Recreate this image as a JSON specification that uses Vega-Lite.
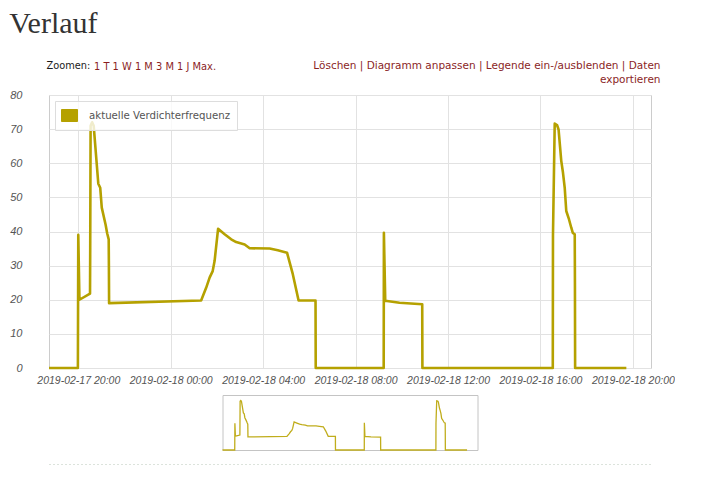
{
  "$schema": "https://vega.github.io/schema/vega-lite/v6.json",
  "background": "white",
  "padding": {"left": 9, "top": 8, "right": 0, "bottom": 0},
  "config": {
    "font": "DejaVu Sans",
    "axis": {"ticks": false, "domain": false, "gridColor": "#e2e2e2", "labelColor": "#545454"}
  },
  "title": {
    "text": "Verlauf",
    "anchor": "start",
    "font": "Liberation Serif",
    "fontSize": 30,
    "fontWeight": "normal",
    "color": "#333333",
    "offset": 21
  },
  "data": {
    "values": [
      {"Zeit": "2019-02-17T18:44:00", "Frequenz": 0},
      {"Zeit": "2019-02-17T19:59:00", "Frequenz": 0},
      {"Zeit": "2019-02-17T20:00:00", "Frequenz": 39},
      {"Zeit": "2019-02-17T20:03:00", "Frequenz": 20},
      {"Zeit": "2019-02-17T20:30:30", "Frequenz": 21.8},
      {"Zeit": "2019-02-17T20:31:00", "Frequenz": 35},
      {"Zeit": "2019-02-17T20:32:00", "Frequenz": 71},
      {"Zeit": "2019-02-17T20:36:00", "Frequenz": 72},
      {"Zeit": "2019-02-17T20:40:00", "Frequenz": 71},
      {"Zeit": "2019-02-17T20:52:00", "Frequenz": 54},
      {"Zeit": "2019-02-17T20:57:00", "Frequenz": 52.8},
      {"Zeit": "2019-02-17T21:01:00", "Frequenz": 47},
      {"Zeit": "2019-02-17T21:11:00", "Frequenz": 42},
      {"Zeit": "2019-02-17T21:15:00", "Frequenz": 39.5},
      {"Zeit": "2019-02-17T21:19:00", "Frequenz": 37.7},
      {"Zeit": "2019-02-17T21:19:30", "Frequenz": 30},
      {"Zeit": "2019-02-17T21:20:00", "Frequenz": 19},
      {"Zeit": "2019-02-18T01:19:00", "Frequenz": 19.8},
      {"Zeit": "2019-02-18T01:32:00", "Frequenz": 23.5},
      {"Zeit": "2019-02-18T01:41:00", "Frequenz": 26.5},
      {"Zeit": "2019-02-18T01:49:00", "Frequenz": 28.4},
      {"Zeit": "2019-02-18T01:54:00", "Frequenz": 31.4},
      {"Zeit": "2019-02-18T02:03:00", "Frequenz": 40.8},
      {"Zeit": "2019-02-18T02:20:00", "Frequenz": 39.2},
      {"Zeit": "2019-02-18T02:37:00", "Frequenz": 37.7},
      {"Zeit": "2019-02-18T02:50:00", "Frequenz": 36.9},
      {"Zeit": "2019-02-18T03:12:00", "Frequenz": 36.2},
      {"Zeit": "2019-02-18T03:25:00", "Frequenz": 35.1},
      {"Zeit": "2019-02-18T04:17:00", "Frequenz": 35.0},
      {"Zeit": "2019-02-18T04:38:00", "Frequenz": 34.5},
      {"Zeit": "2019-02-18T05:02:00", "Frequenz": 33.8},
      {"Zeit": "2019-02-18T05:17:00", "Frequenz": 27.5},
      {"Zeit": "2019-02-18T05:32:00", "Frequenz": 19.8},
      {"Zeit": "2019-02-18T06:16:00", "Frequenz": 19.8},
      {"Zeit": "2019-02-18T06:16:30", "Frequenz": 0},
      {"Zeit": "2019-02-18T09:13:00", "Frequenz": 0},
      {"Zeit": "2019-02-18T09:13:30", "Frequenz": 39.6},
      {"Zeit": "2019-02-18T09:17:00", "Frequenz": 19.7},
      {"Zeit": "2019-02-18T09:54:00", "Frequenz": 19.1},
      {"Zeit": "2019-02-18T10:53:00", "Frequenz": 18.7},
      {"Zeit": "2019-02-18T10:53:30", "Frequenz": 0},
      {"Zeit": "2019-02-18T16:32:00", "Frequenz": 0},
      {"Zeit": "2019-02-18T16:32:30", "Frequenz": 39},
      {"Zeit": "2019-02-18T16:37:00", "Frequenz": 71.6},
      {"Zeit": "2019-02-18T16:43:00", "Frequenz": 71.2},
      {"Zeit": "2019-02-18T16:47:00", "Frequenz": 69.9},
      {"Zeit": "2019-02-18T16:54:00", "Frequenz": 60.7},
      {"Zeit": "2019-02-18T16:58:30", "Frequenz": 57.2},
      {"Zeit": "2019-02-18T17:03:00", "Frequenz": 52.8},
      {"Zeit": "2019-02-18T17:07:00", "Frequenz": 46},
      {"Zeit": "2019-02-18T17:14:00", "Frequenz": 43.6},
      {"Zeit": "2019-02-18T17:20:00", "Frequenz": 41.1},
      {"Zeit": "2019-02-18T17:24:00", "Frequenz": 39.6},
      {"Zeit": "2019-02-18T17:29:00", "Frequenz": 39.2},
      {"Zeit": "2019-02-18T17:29:30", "Frequenz": 25},
      {"Zeit": "2019-02-18T17:30:00", "Frequenz": 0},
      {"Zeit": "2019-02-18T19:43:00", "Frequenz": 0}
    ]
  },
  "bounds": "flush",
  "center": true,
  "spacing": 27,
  "vconcat": [
    {
      "width": 602,
      "height": 273,
      "view": {"stroke": "#cccccc"},
      "title": {
        "text": "1 T 1 W 1 M 3 M 1 J Max.",
        "anchor": "start",
        "frame": "group",
        "dx": 45,
        "baseline": "alphabetic",
        "offset": -19.5,
        "font": "DejaVu Sans",
        "fontSize": 9.9,
        "fontWeight": "normal",
        "color": "#8b1f1f"
      },
      "resolve": {"axis": {"x": "independent"}},
      "layer": [
        {
          "mark": {"type": "line", "strokeWidth": 2.6, "strokeJoin": "round"},
          "encoding": {
            "x": {
              "field": "Zeit",
              "type": "temporal",
              "scale": {"domain": [
                {"year": 2019, "month": 2, "date": 17, "hours": 18, "minutes": 44},
                {"year": 2019, "month": 2, "date": 18, "hours": 20, "minutes": 47}
              ]},
              "axis": {
                "orient": "bottom",
                "format": "%Y-%m-%d %H:%M",
                "values": [
                  {"year": 2019, "month": 2, "date": 17, "hours": 20},
                  {"year": 2019, "month": 2, "date": 18, "hours": 0},
                  {"year": 2019, "month": 2, "date": 18, "hours": 4},
                  {"year": 2019, "month": 2, "date": 18, "hours": 8},
                  {"year": 2019, "month": 2, "date": 18, "hours": 12},
                  {"year": 2019, "month": 2, "date": 18, "hours": 16},
                  {"year": 2019, "month": 2, "date": 18, "hours": 20}
                ],
                "labelOverlap": false,
                "labelFont": "Liberation Sans",
                "labelFontStyle": "italic",
                "labelFontSize": 10.5,
                "labelPadding": 7,
                "title": "Zoomen:",
                "titleX": -3,
                "titleY": -300,
                "titleAlign": "left",
                "titleBaseline": "alphabetic",
                "titleFont": "DejaVu Sans",
                "titleFontSize": 9.8,
                "titleFontWeight": "normal",
                "titleColor": "#1a1a1a"
              }
            },
            "y": {
              "field": "Frequenz",
              "type": "quantitative",
              "scale": {"domain": [0, 80]},
              "axis": {
                "values": [0, 10, 20, 30, 40, 50, 60, 70, 80],
                "labelFont": "Liberation Sans",
                "labelFontStyle": "italic",
                "labelFontSize": 11,
                "labelPadding": 27,
                "title": ["Löschen |  Diagramm anpassen |  Legende ein-/ausblenden |  Daten", "exportieren"],
                "titleAngle": 0,
                "titleX": 611,
                "titleY": -27,
                "titleAlign": "right",
                "titleBaseline": "alphabetic",
                "titleLineHeight": 14,
                "titleFont": "DejaVu Sans",
                "titleFontSize": 10.5,
                "titleFontWeight": "normal",
                "titleColor": "#8b1f1f"
              }
            },
            "color": {
              "datum": "aktuelle Verdichterfrequenz",
              "scale": {"range": ["#b5a100"]},
              "legend": {
                "title": null,
                "orient": "top-left",
                "offset": 6,
                "padding": 6,
                "fillColor": "rgba(255,255,255,0.8)",
                "strokeColor": "#dddddd",
                "symbolType": "M-1,-0.75H1V0.75H-1Z",
                "symbolSize": 256,
                "symbolFillColor": "#b5a100",
                "symbolStrokeColor": "#cccccc",
                "symbolStrokeWidth": 1,
                "labelFont": "DejaVu Sans",
                "labelFontSize": 10.2,
                "labelColor": "#545454",
                "labelOffset": 11
              }
            }
          }
        },
        {
          "data": {"values": []},
          "mark": {"type": "rule"},
          "encoding": {
            "x": {
              "field": "Zeit",
              "type": "temporal",
              "axis": {
                "orient": "bottom",
                "offset": 96,
                "labels": false,
                "ticks": false,
                "grid": false,
                "domain": true,
                "domainColor": "#b9c6b9",
                "domainDash": [1, 3],
                "domainWidth": 1,
                "title": null
              }
            }
          }
        }
      ]
    },
    {
      "width": 255,
      "height": 55,
      "view": {"stroke": "#c4c4c4"},
      "mark": {"type": "line", "strokeWidth": 1.3, "color": "#c0ad1c"},
      "encoding": {
        "x": {
          "field": "Zeit",
          "type": "temporal",
          "scale": {"domain": [
            {"year": 2019, "month": 2, "date": 17, "hours": 18, "minutes": 44},
            {"year": 2019, "month": 2, "date": 18, "hours": 20, "minutes": 47}
          ]},
          "axis": null
        },
        "y": {
          "field": "Frequenz",
          "type": "quantitative",
          "scale": {"domain": [0, 80]},
          "axis": null
        }
      }
    }
  ]
}
